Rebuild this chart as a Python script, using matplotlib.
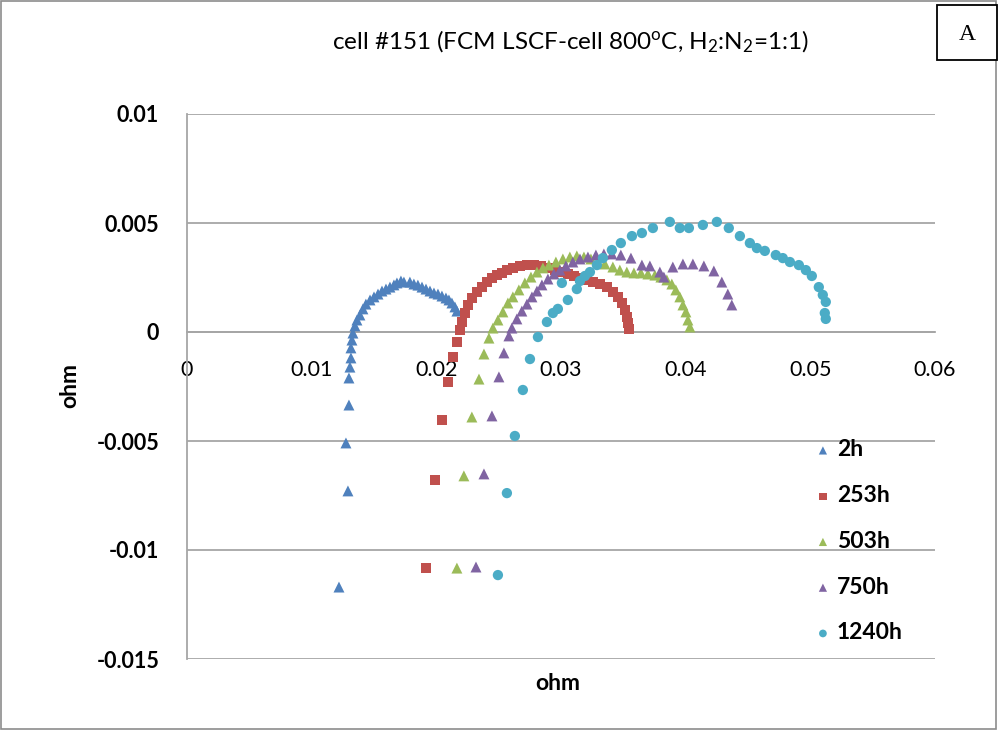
import numpy as np
import matplotlib.pyplot as plt
from matplotlib.patches import Rectangle

plt.rcParams['font.family'] = ['Lato', 'DejaVu Sans']
plt.rcParams['mathtext.fontset'] = 'custom'
plt.rcParams['mathtext.rm'] = 'Lato'
plt.rcParams['mathtext.it'] = 'Lato:italic'
plt.rcParams['mathtext.bf'] = 'Lato:bold'

# Nyquist data, Z' and Z'' in ohm, one pair of lists per ageing time
z_re_2h = [0.01219, 0.01275, 0.01291, 0.01299, 0.01299, 0.01307, 0.01315,
           0.01315, 0.01323, 0.01331, 0.01347, 0.01363, 0.01387, 0.01411,
           0.01435, 0.01468, 0.0150, 0.01532, 0.01564, 0.01596, 0.01628,
           0.0166, 0.01684, 0.01716, 0.0174, 0.01788, 0.0182, 0.01852,
           0.01885, 0.01917, 0.01949, 0.01981, 0.02013, 0.02045, 0.02077,
           0.02101, 0.02125, 0.02149, 0.02165]
z_im_2h = [-0.0117, -0.00509, -0.00729, -0.00335, -0.00211, -0.00161, -0.00119,
           -0.00073, -0.00037, -0.00005, 0.00028, 0.00055, 0.00078, 0.00106,
           0.00128, 0.00147, 0.00161, 0.00174, 0.00188, 0.00197, 0.00206,
           0.00216, 0.00225, 0.00234, 0.00229, 0.00229, 0.0022, 0.00215,
           0.00206, 0.00197, 0.00188, 0.00179, 0.00174, 0.00165, 0.00156,
           0.00147, 0.00133, 0.00115, 0.00096]

z_re_253h = [0.01917, 0.01989, 0.02045, 0.02093, 0.02133, 0.02165,
             0.02189, 0.02205, 0.02229, 0.02253, 0.02285, 0.02326, 0.02366,
             0.02406, 0.02446, 0.02486, 0.02526, 0.02566, 0.02614, 0.0267,
             0.02727, 0.02783, 0.02839, 0.02895, 0.02951, 0.03007, 0.03055,
             0.03103, 0.03152, 0.03208, 0.03256, 0.03312, 0.03368, 0.03416,
             0.03456, 0.03488, 0.03512, 0.03528, 0.03536, 0.03544]
z_im_253h = [-0.01083, -0.00679, -0.00404, -0.00229, -0.00115, -0.00045,
             0.00009, 0.00046, 0.00087, 0.00124, 0.00156, 0.00183, 0.00206,
             0.00229, 0.00248, 0.00261, 0.00271, 0.00284, 0.00294, 0.00303,
             0.00307, 0.00307, 0.00303, 0.00294, 0.00284, 0.00275, 0.00266,
             0.00257, 0.00248, 0.00239, 0.00229, 0.0022, 0.00206, 0.00183,
             0.00161, 0.00133, 0.00101, 0.00069, 0.00041, 0.00014]

z_re_503h = [0.02165, 0.02221, 0.02285, 0.02342, 0.02382, 0.02422,
             0.02454, 0.02494, 0.02534, 0.02574, 0.02614, 0.02662, 0.0271,
             0.02759, 0.02807, 0.02855, 0.02903, 0.02959, 0.03015, 0.03071,
             0.03127, 0.03184, 0.0324, 0.03296, 0.03352, 0.03416, 0.03472,
             0.03528, 0.03585, 0.03641, 0.03697, 0.03753, 0.03801, 0.03849,
             0.03889, 0.03921, 0.03953, 0.03978, 0.04002, 0.04018, 0.04034]
z_im_503h = [-0.01083, -0.0066, -0.0039, -0.00216, -0.00101, -0.00028,
             0.00018, 0.00055, 0.00092, 0.00133, 0.00161, 0.00193, 0.00225,
             0.00252, 0.00275, 0.00294, 0.00307, 0.00321, 0.00335, 0.00344,
             0.00349, 0.00344, 0.00335, 0.00321, 0.00312, 0.00298, 0.00284,
             0.00275, 0.00271, 0.00271, 0.00266, 0.00261, 0.00252, 0.00239,
             0.0022, 0.00193, 0.00161, 0.00124, 0.00092, 0.00055, 0.00023]

z_re_750h = [0.02318, 0.02382, 0.02446, 0.02502, 0.02542, 0.02582,
             0.02606, 0.02646, 0.02686, 0.02727, 0.02767, 0.02807, 0.02847,
             0.02895, 0.02943, 0.02991, 0.03039, 0.03095, 0.03152, 0.03216,
             0.0328, 0.03344, 0.03408, 0.0348, 0.03561, 0.03649, 0.03713,
             0.03793, 0.03825, 0.03897, 0.03978, 0.04058, 0.04146, 0.04226,
             0.0429, 0.04338, 0.0437]
z_im_750h = [-0.01078, -0.00651, -0.00385, -0.00206, -0.00096, -0.00018,
             0.00018, 0.0006, 0.00096, 0.00128, 0.00161, 0.00188, 0.00216,
             0.00243, 0.00266, 0.00284, 0.00303, 0.00321, 0.00335, 0.00344,
             0.00353, 0.00358, 0.00358, 0.00353, 0.00339, 0.00307, 0.00303,
             0.00275, 0.00252, 0.00298, 0.00312, 0.00312, 0.00303, 0.0028,
             0.00229, 0.00174, 0.00124]

z_re_1240h = [0.02494, 0.02566, 0.0263, 0.02694, 0.02751, 0.02815,
              0.02887, 0.02935, 0.02975, 0.03055, 0.03007, 0.03127, 0.03152,
              0.03192, 0.03232, 0.03288, 0.03336, 0.03408, 0.0348, 0.03569,
              0.03649, 0.03737, 0.03873, 0.03953, 0.04026, 0.04138, 0.0425,
              0.04346, 0.04435, 0.04515, 0.04571, 0.04635, 0.04723, 0.04779,
              0.04836, 0.04908, 0.04964, 0.05012, 0.05068, 0.051, 0.05124,
              0.05116, 0.05124]
z_im_1240h = [-0.01115, -0.00739, -0.00477, -0.00266, -0.00124, -0.00023,
              0.00046, 0.00087, 0.00106, 0.00147, 0.00225, 0.00197, 0.00234,
              0.00257, 0.00275, 0.00307, 0.00339, 0.00376, 0.00408, 0.0044,
              0.00454, 0.00477, 0.00505, 0.00477, 0.00477, 0.00491, 0.00505,
              0.00477, 0.0044, 0.00408, 0.00385, 0.00372, 0.00353, 0.00339,
              0.00321, 0.00307, 0.00284, 0.00257, 0.00206, 0.0017, 0.00138,
              0.00087, 0.0006]

series_labels = ['2h', '253h', '503h', '750h', '1240h']
x_ticks = [0, 0.01, 0.02, 0.03, 0.04, 0.05, 0.06]
x_tick_labels = ['0', '0.01', '0.02', '0.03', '0.04', '0.05', '0.06']
y_ticks = [-0.015, -0.01, -0.005, 0, 0.005, 0.01]
y_tick_labels = ['-0.015', '-0.01', '-0.005', '0', '0.005', '0.01']

series = [
    (z_re_2h, z_im_2h, '^', '#4F81BD'),
    (z_re_253h, z_im_253h, 's', '#C0504D'),
    (z_re_503h, z_im_503h, '^', '#9BBB59'),
    (z_re_750h, z_im_750h, '^', '#8064A2'),
    (z_re_1240h, z_im_1240h, 'o', '#4BACC6'),
]
marker_area = {'^': 62, 's': 50, 'o': 55}

fig = plt.figure(figsize=(9.98, 7.30), dpi=100)
ax = fig.add_axes([187 / 998, 1 - 659 / 730, (935 - 187) / 998, (659 - 114) / 730])

for (zr, zi, mk, col), lab in zip(series, series_labels):
    ax.scatter(zr, zi, marker=mk, s=marker_area[mk], color=col,
               edgecolors='none', label=lab, zorder=3)

ax.set_xlim(0, 0.06)
ax.set_ylim(-0.015, 0.01)
ax.set_xticks(x_ticks)
ax.set_xticklabels(x_tick_labels)
ax.set_yticks(y_ticks)
ax.set_yticklabels(y_tick_labels)
ax.tick_params(length=0, labelsize=15.5)
ax.tick_params(axis='x', pad=20)
ax.tick_params(axis='y', pad=20)
for t in ax.get_xticklabels() + ax.get_yticklabels():
    t.set_fontweight('bold')

ax.grid(axis='y', color='#A6A6A6', linewidth=1.3)
ax.set_axisbelow(True)
ax.spines['top'].set_visible(False)
ax.spines['right'].set_visible(False)
ax.spines['bottom'].set_position(('data', 0))
ax.spines['bottom'].set_color('#A6A6A6')
ax.spines['left'].set_color('#A6A6A6')
ax.spines['bottom'].set_linewidth(1.3)
ax.spines['left'].set_linewidth(1.3)

fig.text(570 / 998, 1 - 42 / 730,
         'cell #151 (FCM LSCF-cell 800$^\\mathrm{o}$C, H$_2$:N$_2$=1:1)',
         ha='center', va='center', fontsize=17.5)
fig.text(558 / 998, 1 - 684 / 730, 'ohm', ha='center', va='center',
         fontsize=16.5, fontweight='bold')
fig.text(70 / 998, 1 - 385 / 730, 'ohm', ha='center', va='center',
         fontsize=16.5, fontweight='bold', rotation=90)

leg = ax.legend(loc='upper left', bbox_to_anchor=(800 / 998, 1 - 428 / 730),
                bbox_transform=fig.transFigure, frameon=False,
                prop={'weight': 'bold', 'size': 16.5}, labelspacing=1.08,
                handletextpad=0.1, markerscale=0.75, handlelength=1.0,
                borderpad=0)

# chart border and panel tag
fig.patches.append(Rectangle((0.001, 0.002), 0.997, 0.996, transform=fig.transFigure,
                             fill=False, edgecolor='#8C8C8C', linewidth=1.2))
fig.patches.append(Rectangle((937 / 998, 1 - 60 / 730), 60 / 998, 55 / 730,
                             transform=fig.transFigure, facecolor='white',
                             edgecolor='black', linewidth=1.3))
fig.text(967 / 998, 1 - 34 / 730, 'A', ha='center', va='center',
         fontsize=17, family='Liberation Serif')

fig.savefig('out.png', dpi=100)
